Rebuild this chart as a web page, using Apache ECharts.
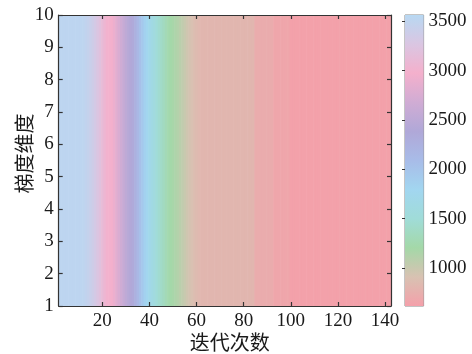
<!DOCTYPE html>
<html>
<head>
<meta charset="utf-8">
<script src="https://cdn.jsdelivr.net/npm/echarts@6/dist/echarts.min.js"></script>
<style>
  html, body { margin: 0; padding: 0; background: #fff; }
  #chart { width: 472px; height: 354px; }
</style>
</head>
<body>
<div id="chart"></div>
<script>
// 迭代次数 (x) 从 2 开始，每列一个值
const iterations = [
  2, 3, 4, 5, 6, 7, 8, 9, 10, 11, 12, 13, 14, 15, 16, 17, 18, 19, 20, 21,
  22, 23, 24, 25, 26, 27, 28, 29, 30, 31, 32, 33, 34, 35, 36, 37, 38, 39, 40, 41,
  42, 43, 44, 45, 46, 47, 48, 49, 50, 51, 52, 53, 54, 55, 56, 57, 58, 59, 60, 61,
  62, 63, 64, 65, 66, 67, 68, 69, 70, 71, 72, 73, 74, 75, 76, 77, 78, 79, 80, 81,
  82, 83, 84, 85, 86, 87, 88, 89, 90, 91, 92, 93, 94, 95, 96, 97, 98, 99, 100, 101,
  102, 103, 104, 105, 106, 107, 108, 109, 110, 111, 112, 113, 114, 115, 116, 117, 118, 119, 120, 121,
  122, 123, 124, 125, 126, 127, 128, 129, 130, 131, 132, 133, 134, 135, 136, 137, 138, 139, 140, 141,
  142
]
const values = [
  3520, 3520, 3520, 3520, 3520, 3520, 3520, 3520, 3520, 3520, 3510, 3490, 3460, 3420, 3370, 3320, 3260, 3200, 3120, 3050,
  3000, 2990, 2970, 2910, 2830, 2750, 2670, 2590, 2510, 2450, 2400, 2350, 2250, 2150, 2050, 1950, 1850, 1780, 1720, 1650,
  1580, 1510, 1450, 1400, 1350, 1300, 1250, 1210, 1180, 1150, 1120, 1080, 1040, 1000, 960, 930, 900, 870, 850, 830,
  810, 810, 810, 810, 810, 810, 810, 810, 810, 810, 810, 810, 810, 810, 810, 810, 810, 810, 810, 810,
  810, 810, 810, 720, 720, 720, 720, 720, 720, 720, 720, 670, 670, 670, 670, 670, 670, 670, 625, 625,
  625, 625, 625, 625, 625, 625, 625, 625, 625, 625, 625, 625, 625, 625, 625, 625, 625, 625, 625, 625,
  625, 625, 625, 625, 625, 625, 625, 625, 625, 625, 625, 625, 625, 625, 625, 625, 625, 625, 625, 625,
  625
]
const xTicks = [20, 40, 60, 80, 100, 120, 140]
const colorTicks = [1000, 1500, 2000, 2500, 3000, 3500]
const colorMin = 615
const colorMax = 3565
const yMin = 1
const yMax = 10

// 颜色映射 (低 -> 高)
const palette = [
  '#f4a0aa', '#d8c2b2', '#a4d8a8', '#a0dcd8', '#a2d6f0', '#a8bce8',
  '#b0a8d8', '#d0acd4', '#f4b0cc', '#dac6e2', '#b8d8f2'
]

const chart = echarts.init(document.getElementById('chart'))

const textStyle = { fontFamily: 'Liberation Serif', fontSize: 19, color: '#1a1a1a' }
const axisLine = { show: true, lineStyle: { color: '#333', width: 1.2 } }
const axisTick = { show: true, inside: true, length: 4, lineStyle: { color: '#333', width: 1.2 } }

const option = {
  animation: false,
  grid: [
    { left: 58.7, right: 81, top: 15, bottom: 48, outerBoundsMode: 'none', containLabel: false },
    { left: 405, width: 18.6, top: 15, bottom: 48, outerBoundsMode: 'none', containLabel: false, show: true, borderColor: '#888', borderWidth: 1 }
  ],
  xAxis: [
    {
      type: 'value', gridIndex: 0, min: 1.5, max: 142.5, z: 10,
      axisLine, axisTick: { ...axisTick, customValues: xTicks },
      axisLabel: { ...textStyle, margin: 6, customValues: xTicks },
      splitLine: { show: false },
      name: '迭代次数', nameLocation: 'middle', nameGap: 26, nameMoveOverlap: false,
      nameTextStyle: { fontFamily: 'Noto Sans CJK SC', fontSize: 20, color: '#1a1a1a', padding: [0, 0, 0, 10] }
    },
    {
      type: 'value', gridIndex: 0, position: 'top', min: 1.5, max: 142.5, z: 10,
      axisLine, axisTick: { ...axisTick, customValues: xTicks },
      axisLabel: { show: false }, splitLine: { show: false }
    },
    { type: 'value', gridIndex: 1, min: 0, max: 1, show: false }
  ],
  yAxis: [
    {
      type: 'value', gridIndex: 0, min: yMin, max: yMax, interval: 1, z: 10,
      axisLine, axisTick,
      axisLabel: { ...textStyle, margin: 5 },
      splitLine: { show: false },
      name: '梯度维度', nameLocation: 'middle', nameGap: 24, nameRotate: 90, nameMoveOverlap: false,
      nameTextStyle: { fontFamily: 'Noto Sans CJK SC', fontSize: 20, color: '#1a1a1a', padding: [0, 0, 0, 14] }
    },
    {
      type: 'value', gridIndex: 0, position: 'right', min: yMin, max: yMax, interval: 1, z: 10,
      axisLine, axisTick, axisLabel: { show: false }, splitLine: { show: false }
    },
    {
      type: 'value', gridIndex: 1, position: 'right', min: colorMin, max: colorMax, z: 10,
      axisLine: { show: false },
      axisTick: { show: true, inside: true, length: 3, customValues: colorTicks, lineStyle: { color: '#333', width: 1 } },
      axisLabel: { ...textStyle, margin: 5, customValues: colorTicks, formatter: (v) => String(v) },
      splitLine: { show: false }
    }
  ],
  visualMap: {
    show: false, type: 'continuous', seriesIndex: 0, dimension: 1,
    min: colorMin, max: colorMax, inRange: { color: palette }
  },
  series: [
    {
      type: 'custom',
      xAxisIndex: 0, yAxisIndex: 0, z: 1,
      data: iterations.map((k, i) => [k, values[i]]),
      renderItem: (params, api) => {
        const k = api.value(0)
        const p0 = api.coord([k - 0.5, yMax])
        const p1 = api.coord([k + 0.5, yMin])
        return {
          type: 'rect',
          shape: { x: p0[0], y: p0[1], width: p1[0] - p0[0] + 0.6, height: p1[1] - p0[1] },
          style: { fill: api.visual('color') }
        }
      }
    },
    {
      // 色条
      type: 'custom',
      xAxisIndex: 2, yAxisIndex: 2, z: 1,
      data: [[0, colorMax]],
      renderItem: (params, api) => {
        const p0 = api.coord([0, colorMax])
        const p1 = api.coord([1, colorMin])
        const stops = palette.slice().reverse().map((c, i) => ({ offset: i / (palette.length - 1), color: c }))
        return {
          type: 'rect',
          shape: { x: p0[0], y: p0[1], width: p1[0] - p0[0], height: p1[1] - p0[1] },
          style: { fill: new echarts.graphic.LinearGradient(0, 0, 0, 1, stops) }
        }
      }
    }
  ]
}

chart.setOption(option)
</script>
</body>
</html>
